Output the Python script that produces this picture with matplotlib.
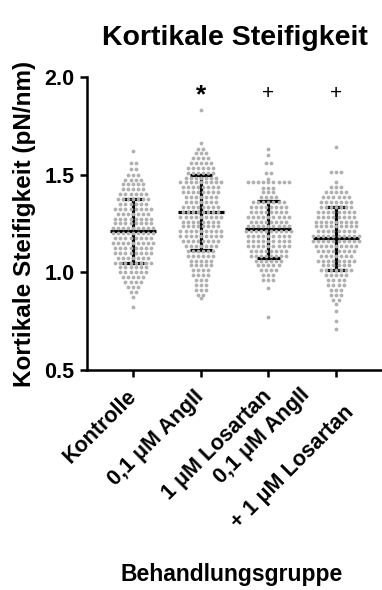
import numpy as np
import matplotlib.pyplot as plt
import matplotlib.transforms as mtransforms

plt.rcParams['font.family'] = ['Liberation Sans', 'DejaVu Sans']
plt.rcParams['font.weight'] = 'bold'

groups = ["Kontrolle", "0,1 \u03bcM AngII", "1 \u03bcM Losartan",
          "0,1 \u03bcM AngII\n+ 1 \u03bcM Losartan"]

# dot rows: value level and number of dots at that level
kontrolle_lvl = [1.62, 1.56, 1.53, 1.50, 1.475, 1.45, 1.425, 1.40, 1.375, 1.35, 1.325, 1.30, 1.275, 1.25,
                 1.225, 1.20, 1.175, 1.15, 1.125, 1.10, 1.075, 1.05, 1.025, 1.00, 0.975, 0.95, 0.925, 0.90,
                 0.875, 0.82]
kontrolle_n = [1, 2, 2, 3, 4, 5, 5, 6, 7, 6, 8, 7, 8, 8, 9, 9, 8, 9, 8, 8, 7, 8, 6, 6, 5, 4, 3, 2, 1, 1]

angii_lvl = [1.83, 1.66, 1.63, 1.61, 1.585, 1.56, 1.535, 1.51, 1.485, 1.46, 1.435, 1.41, 1.385, 1.36,
             1.335, 1.31, 1.285, 1.26, 1.235, 1.21, 1.185, 1.16, 1.135, 1.11, 1.085, 1.06, 1.035, 1.01,
             0.985, 0.96, 0.935, 0.91, 0.885, 0.87]
angii_n = [1, 1, 2, 3, 4, 5, 6, 6, 7, 9, 8, 8, 7, 7, 8, 8, 9, 8, 8, 9, 9, 8, 7, 6, 6, 5, 5, 4, 4, 3, 3, 3, 2, 1]

losartan_lvl = [1.63, 1.60, 1.56, 1.51, 1.48, 1.46, 1.43, 1.41, 1.385, 1.36, 1.335, 1.31, 1.285, 1.26,
                1.235, 1.21, 1.185, 1.16, 1.135, 1.11, 1.085, 1.06, 1.035, 1.01, 0.985, 0.96, 0.92, 0.77]
losartan_n = [1, 1, 2, 2, 1, 9, 3, 3, 4, 7, 8, 8, 9, 8, 9, 10, 9, 9, 9, 8, 8, 6, 5, 4, 3, 3, 1, 1]

kombi_lvl = [1.64, 1.515, 1.46, 1.435, 1.41, 1.385, 1.36, 1.335, 1.31, 1.285, 1.26, 1.235, 1.21, 1.185,
             1.16, 1.135, 1.11, 1.085, 1.06, 1.035, 1.01, 0.985, 0.96, 0.935, 0.91, 0.885, 0.86, 0.84,
             0.80, 0.75, 0.71]
kombi_n = [1, 3, 1, 3, 5, 6, 7, 7, 8, 8, 9, 9, 8, 10, 10, 9, 8, 7, 8, 6, 7, 5, 4, 4, 3, 3, 2, 1, 1, 1, 1]

means = [1.213, 1.307, 1.221, 1.174]
sds = [0.164, 0.193, 0.146, 0.162]
marks = ["", "*", "+", "+"]

levels = [kontrolle_lvl, angii_lvl, losartan_lvl, kombi_lvl]
counts = [kontrolle_n, angii_n, losartan_n, kombi_n]

fig = plt.figure(figsize=(3.82, 5.90), dpi=100)
ax = fig.add_axes([0.228, 0.373, 0.772, 0.4965])

step = 0.075
for i, (lv, cn) in enumerate(zip(levels, counts)):
    xs, ys = [], []
    for v, n in zip(lv, cn):
        for k in range(n):
            xs.append(i + (k - (n - 1) / 2) * step)
            ys.append(v)
    ax.scatter(xs, ys, s=7.5, color='#b0b0b0', linewidths=0, zorder=3)
    m, s = means[i], sds[i]
    ax.plot([i - 0.34, i + 0.34], [m, m], color='black', lw=2.3, zorder=2, solid_capstyle='butt')
    ax.plot([i, i], [m - s, m + s], color='black', lw=2.3, zorder=2)
    for e in (m - s, m + s):
        ax.plot([i - 0.165, i + 0.165], [e, e], color='black', lw=2.3, zorder=2, solid_capstyle='butt')
    if marks[i] == "*":
        ax.text(i, 1.905, "*", ha='center', va='center', fontsize=19, fontweight='bold')
    elif marks[i] == "+":
        ax.text(i, 1.915, "+", ha='center', va='center', fontsize=15, fontweight='normal')

ax.set_xlim(-0.68, 3.68)
ax.set_ylim(0.5, 2.0)
ax.set_yticks([0.5, 1.0, 1.5, 2.0])
ax.set_yticklabels(["0.5", "1.0", "1.5", "2.0"])
ax.set_xticks(range(4))
ax.set_xticklabels(groups, rotation=45, ha='right', va='center', rotation_mode='anchor',
                   multialignment='center', linespacing=2.4)
shift = mtransforms.ScaledTranslation(4 / 100, 0, fig.dpi_scale_trans)
for lab in ax.get_xticklabels():
    lab.set_transform(lab.get_transform() + shift)
for sp in ['top', 'right']:
    ax.spines[sp].set_visible(False)
for sp in ['left', 'bottom']:
    ax.spines[sp].set_linewidth(1.8)
ax.tick_params(axis='both', width=1.8, length=5)
ax.tick_params(axis='y', labelsize=15.5, pad=4)
ax.tick_params(axis='x', labelsize=15.5, pad=12)

ax.set_ylabel("Kortikale Steifigkeit (pN/nm)", fontsize=17.5, fontweight='bold', labelpad=6)
fig.text(0.614, 0.936, "Kortikale Steifigkeit", ha='center', va='center', fontsize=20.5, fontweight='bold')
fig.text(0.607, 0.026, "Behandlungsgruppe", ha='center', va='center', fontsize=16.5, fontweight='bold')

plt.savefig("out.png", dpi=100)
